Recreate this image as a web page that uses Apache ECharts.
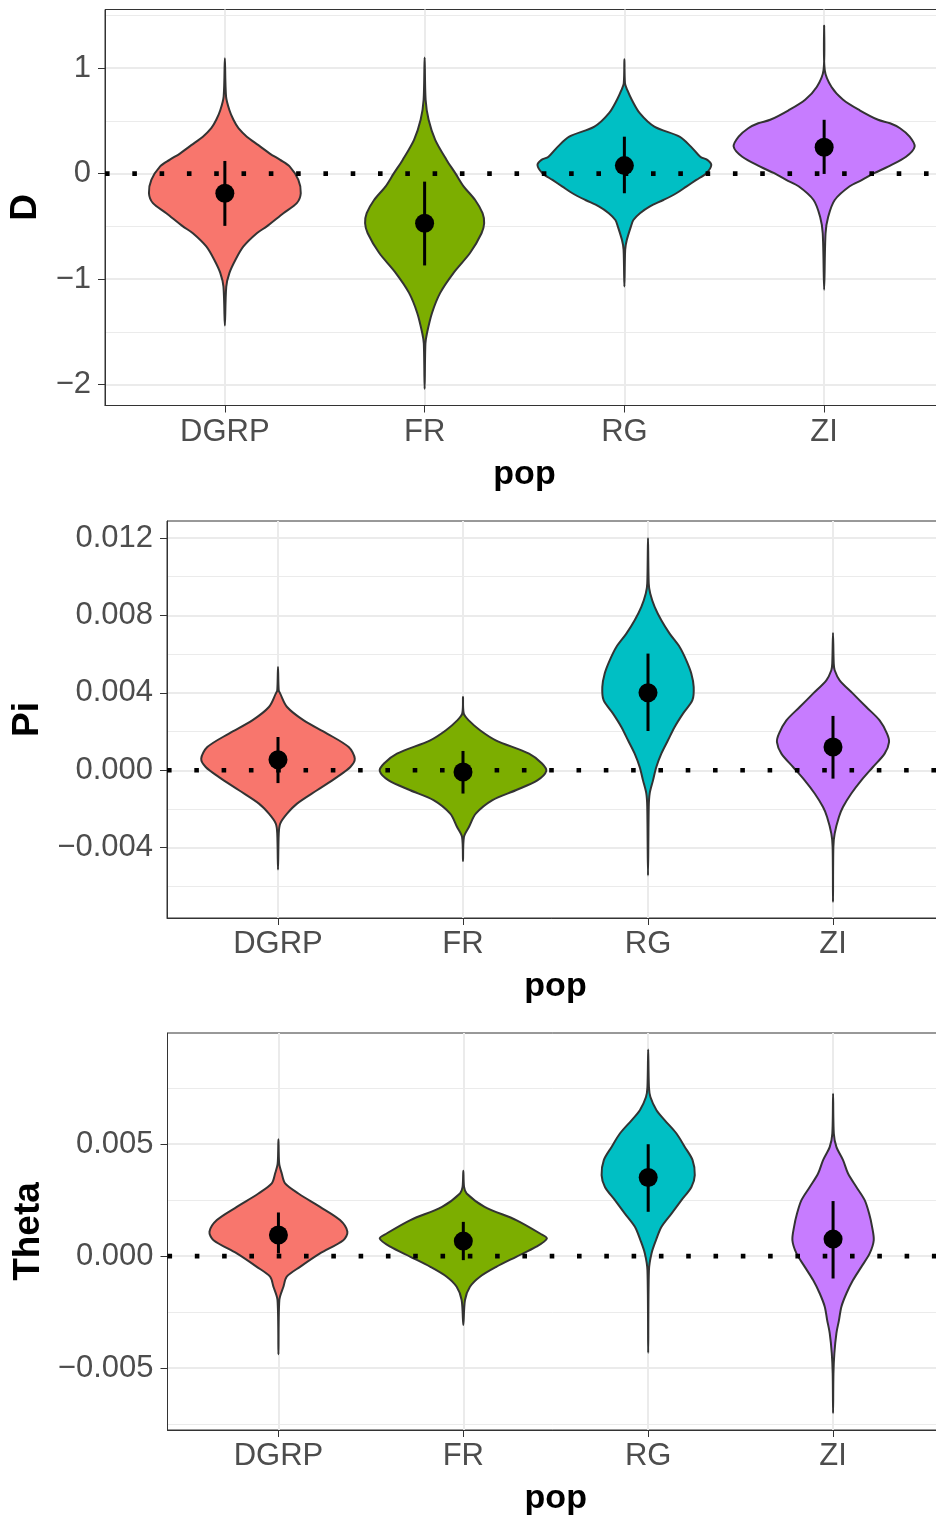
<!DOCTYPE html>
<html><head><meta charset="utf-8">
<script src="https://cdn.jsdelivr.net/npm/echarts@6/dist/echarts.min.js"></script>
<style>html,body{margin:0;padding:0;background:#fff}#c{width:936px;height:1520px}</style>
</head><body><div id="c"></div>
<script>
// ---------- data ----------
const pops = ['DGRP', 'FR', 'RG', 'ZI'];
const fills = ['#F8766D', '#7CAE00', '#00BFC4', '#C77CFF'];

// Violin profiles: [value, half-width (category units)], top to bottom
const violinD_DGRP = [[1.093,0],[0.73,0.006],[0.60,0.023],[0.51,0.043],[0.43,0.068],[0.35,0.11],[0.27,0.168],[0.19,0.225],[0.13,0.277],[0.066,0.325],[-0.06,0.368],[-0.186,0.38],[-0.28,0.36],[-0.375,0.293],[-0.50,0.21],[-0.565,0.16],[-0.69,0.093],[-0.82,0.052],[-0.94,0.023],[-1.07,0.007],[-1.44,0]];
const violinD_FR = [[1.10,0],[0.70,0.005],[0.51,0.02],[0.32,0.053],[0.13,0.11],[0.0,0.155],[-0.12,0.195],[-0.25,0.253],[-0.375,0.29],[-0.47,0.298],[-0.565,0.285],[-0.75,0.228],[-0.94,0.145],[-1.13,0.078],[-1.32,0.037],[-1.51,0.012],[-1.61,0.004],[-2.04,0]];
const violinD_RG = [[1.083,0],[0.856,0.003],[0.79,0.015],[0.70,0.037],[0.57,0.078],[0.445,0.15],[0.35,0.276],[0.256,0.333],[0.16,0.38],[0.13,0.415],[0.082,0.435],[0.004,0.41],[-0.06,0.36],[-0.123,0.31],[-0.186,0.26],[-0.25,0.195],[-0.31,0.128],[-0.375,0.078],[-0.44,0.045],[-0.50,0.033],[-0.63,0.012],[-0.72,0.004],[-1.07,0]];
const violinD_ZI = [[1.40,0],[0.98,0.003],[0.82,0.037],[0.70,0.095],[0.60,0.178],[0.51,0.27],[0.477,0.33],[0.43,0.38],[0.35,0.428],[0.256,0.453],[0.16,0.41],[0.066,0.32],[0.004,0.25],[-0.06,0.19],[-0.12,0.128],[-0.25,0.053],[-0.41,0.02],[-0.565,0.007],[-1.10,0]];

const violinPi_DGRP = [[0.00534,0],[0.00413,0.004],[0.00396,0.012],[0.00327,0.049],[0.00258,0.139],[0.0019,0.265],[0.0012,0.382],[0.0006,0.415],[0.00017,0.391],[-0.00035,0.319],[-0.00103,0.211],[-0.00172,0.103],[-0.00224,0.049],[-0.00275,0.012],[-0.00327,0.004],[-0.00513,0]];
const violinPi_FR = [[0.00379,0],[0.00293,0.004],[0.00258,0.031],[0.00207,0.092],[0.00155,0.177],[0.00086,0.357],[0.00035,0.427],[-0.00004,0.45],[-0.00052,0.402],[-0.00103,0.285],[-0.00155,0.157],[-0.00224,0.069],[-0.00293,0.032],[-0.00345,0.005],[-0.00469,0]];
const violinPi_RG = [[0.0120,0],[0.00965,0.004],[0.00913,0.012],[0.00844,0.036],[0.00775,0.072],[0.00706,0.117],[0.00637,0.171],[0.00568,0.207],[0.005,0.234],[0.0043,0.247],[0.00362,0.24],[0.00293,0.189],[0.00224,0.144],[0.00155,0.108],[0.00086,0.072],[0.00017,0.045],[-0.00052,0.027],[-0.0012,0.009],[-0.0019,0.004],[-0.00543,0]];
const violinPi_ZI = [[0.0071,0],[0.00551,0.004],[0.00517,0.009],[0.00465,0.036],[0.00396,0.108],[0.00327,0.18],[0.00258,0.252],[0.0019,0.292],[0.00146,0.303],[0.00086,0.279],[0.00017,0.216],[-0.00052,0.153],[-0.0012,0.099],[-0.0019,0.054],[-0.00241,0.032],[-0.00327,0.009],[-0.00396,0.002],[-0.0068,0]];

const violinTh_DGRP = [[0.00522,0],[0.00414,0.004],[0.00369,0.018],[0.00325,0.036],[0.0028,0.108],[0.0022,0.225],[0.00161,0.333],[0.00109,0.373],[0.00071,0.351],[0.00012,0.225],[-0.00048,0.117],[-0.00092,0.045],[-0.00137,0.027],[-0.00196,0.005],[-0.00439,0]];
const violinTh_FR = [[0.00381,0],[0.00309,0.004],[0.0028,0.018],[0.0022,0.115],[0.00161,0.286],[0.00101,0.415],[0.00079,0.452],[0.00042,0.395],[-0.00003,0.286],[-0.00048,0.178],[-0.00092,0.09],[-0.00137,0.036],[-0.00196,0.009],[-0.00308,0]];
const violinTh_RG = [[0.00923,0],[0.00756,0.004],[0.00711,0.012],[0.00652,0.045],[0.00607,0.09],[0.00548,0.153],[0.00488,0.198],[0.00429,0.24],[0.00362,0.252],[0.00309,0.234],[0.0025,0.18],[0.0019,0.126],[0.00131,0.072],[0.00071,0.042],[0.00012,0.018],[-0.00063,0.004],[-0.00432,0]];
const violinTh_ZI = [[0.00726,0],[0.00548,0.004],[0.00488,0.018],[0.00429,0.054],[0.00369,0.081],[0.00309,0.126],[0.0025,0.171],[0.0019,0.195],[0.00131,0.211],[0.00071,0.22],[0.00012,0.198],[-0.00048,0.153],[-0.00107,0.108],[-0.00167,0.072],[-0.00226,0.045],[-0.00286,0.032],[-0.00345,0.018],[-0.00434,0.007],[-0.00524,0.002],[-0.00702,0]];

// Mean and interval (mean ± sd)
const meanD  = [-0.186, -0.47, 0.076, 0.25];
const loD    = [-0.495, -0.87, -0.186, -0.003];
const hiD    = [0.12, -0.076, 0.35, 0.51];
const meanPi = [0.00055, -0.00009, 0.00401, 0.0012];
const loPi   = [-0.00066, -0.0012, 0.00203, -0.00043];
const hiPi   = [0.00172, 0.001, 0.00603, 0.00281];
const meanTh = [0.00094, 0.00067, 0.00351, 0.00076];
const loTh   = [0.00012, -0.00018, 0.00198, -0.001];
const hiTh   = [0.00195, 0.00153, 0.005, 0.00246];

// Axes
const ticksD  = [-2, -1, 0, 1];
const minorD  = [-1.5, -0.5, 0.5, 1.5];
const rangeD  = [-2.197, 1.555];
const ticksPi = [-0.004, 0, 0.004, 0.008, 0.012];
const minorPi = [-0.006, -0.002, 0.002, 0.006, 0.010];
const rangePi = [-0.00763, 0.01288];
const ticksTh = [-0.005, 0, 0.005];
const minorTh = [-0.0075, -0.0025, 0.0025, 0.0075];
const rangeTh = [-0.00777, 0.00997];
const xRange  = [-0.6, 3.6];
const refLine = 0;

// ---------- chart ----------
const FONT = '"Liberation Sans", Arial, Helvetica, sans-serif';
const panels = [
  {name: 'D', violins: [violinD_DGRP, violinD_FR, violinD_RG, violinD_ZI], mean: meanD, lo: loD, hi: hiD,
   ticks: ticksD, minor: minorD, range: rangeD, dec: 0,
   grid: {left: 105, top: 9.5, width: 839, height: 396}},
  {name: 'Pi', violins: [violinPi_DGRP, violinPi_FR, violinPi_RG, violinPi_ZI], mean: meanPi, lo: loPi, hi: hiPi,
   ticks: ticksPi, minor: minorPi, range: rangePi, dec: 3,
   grid: {left: 167, top: 521, width: 777, height: 397}},
  {name: 'Theta', violins: [violinTh_DGRP, violinTh_FR, violinTh_RG, violinTh_ZI], mean: meanTh, lo: loTh, hi: hiTh,
   ticks: ticksTh, minor: minorTh, range: rangeTh, dec: 3,
   grid: {left: 167.5, top: 1033, width: 776.5, height: 397}}
];

const grids = [], xAxes = [], yAxes = [], series = [];
const axisColor = '#333333';
panels.forEach((p, k) => {
  grids.push(Object.assign({show: true, borderColor: axisColor, borderWidth: 1, backgroundColor: '#fff',
    containLabel: false, outerBoundsMode: 'none'}, p.grid));
  xAxes.push({
    type: 'value', gridIndex: k, min: xRange[0], max: xRange[1],
    axisLine: {show: true, onZero: false, lineStyle: {color: axisColor, width: 1}},
    axisTick: {show: true, length: 7, customValues: [0, 1, 2, 3], lineStyle: {color: axisColor, width: 1}},
    axisLabel: {customValues: [0, 1, 2, 3], formatter: v => pops[Math.round(v)], fontSize: 31, color: '#4D4D4D', margin: 11, fontFamily: FONT},
    splitLine: {show: true, lineStyle: {color: '#EBEBEB', width: 2}},
    name: 'pop', nameLocation: 'middle', nameGap: 52,
    nameTextStyle: {fontSize: 34, fontWeight: 'bold', color: '#000', fontFamily: FONT}
  });
  yAxes.push({
    type: 'value', gridIndex: k, min: p.range[0], max: p.range[1], position: 'left',
    axisLine: {show: true, onZero: false, lineStyle: {color: axisColor, width: 1}},
    axisTick: {show: true, length: 7, customValues: p.ticks, lineStyle: {color: axisColor, width: 1}},
    axisLabel: {customValues: p.ticks, formatter: v => v.toFixed(p.dec).replace('-', '\u2212'), fontSize: 31, color: '#4D4D4D', margin: 14, fontFamily: FONT},
    splitLine: {show: true, lineStyle: {color: '#EBEBEB', width: 2}},
    name: p.name, nameLocation: 'middle', nameRotate: 90, nameGap: p.grid.left - 50,
    nameTextStyle: {fontSize: 37, fontWeight: 'bold', color: '#000', fontFamily: FONT}
  });
  yAxes.push({
    type: 'value', gridIndex: k, min: p.range[0], max: p.range[1], position: 'right',
    axisLine: {show: false}, axisTick: {show: false, customValues: p.minor},
    axisLabel: {show: false, customValues: p.minor},
    splitLine: {show: true, lineStyle: {color: '#EBEBEB', width: 1}}
  });
  const yi = 2 * k;
  series.push({
    type: 'custom', xAxisIndex: k, yAxisIndex: yi, z: 2, silent: true,
    data: pops.map((_, i) => [i]),
    renderItem: (params, api) => {
      const i = api.value(0);
      const prof = p.violins[i];
      const right = prof.map(d => api.coord([i + d[1], d[0]]));
      const left = prof.slice(1, -1).reverse().map(d => api.coord([i - d[1], d[0]]));
      return {type: 'polygon', shape: {points: right.concat(left), smooth: 0.3},
              style: {fill: fills[i], stroke: '#333333', lineWidth: 2}};
    }
  });
  series.push({
    type: 'line', xAxisIndex: k, yAxisIndex: yi, z: 3, silent: true, symbol: 'none',
    data: [[xRange[0], refLine], [xRange[1], refLine]],
    lineStyle: {color: '#000', width: 4.6, type: [4.6, 22.7], cap: 'butt', opacity: 1}
  });
  series.push({
    type: 'custom', xAxisIndex: k, yAxisIndex: yi, z: 4, silent: true,
    data: pops.map((_, i) => [i, p.lo[i], p.hi[i]]),
    renderItem: (params, api) => {
      const a = api.coord([api.value(0), api.value(1)]);
      const b = api.coord([api.value(0), api.value(2)]);
      return {type: 'line', shape: {x1: a[0], y1: a[1], x2: b[0], y2: b[1]}, style: {stroke: '#000', lineWidth: 3}};
    }
  });
  series.push({
    type: 'scatter', xAxisIndex: k, yAxisIndex: yi, z: 5, silent: true,
    symbol: 'circle', symbolSize: 19, itemStyle: {color: '#000', opacity: 1},
    data: pops.map((_, i) => [i, p.mean[i]])
  });
});

const chart = echarts.init(document.getElementById('c'), null, {renderer: 'canvas', width: 936, height: 1520});
chart.setOption({
  animation: false,
  backgroundColor: '#fff',
  grid: grids, xAxis: xAxes, yAxis: yAxes, series: series
});
</script></body></html>
